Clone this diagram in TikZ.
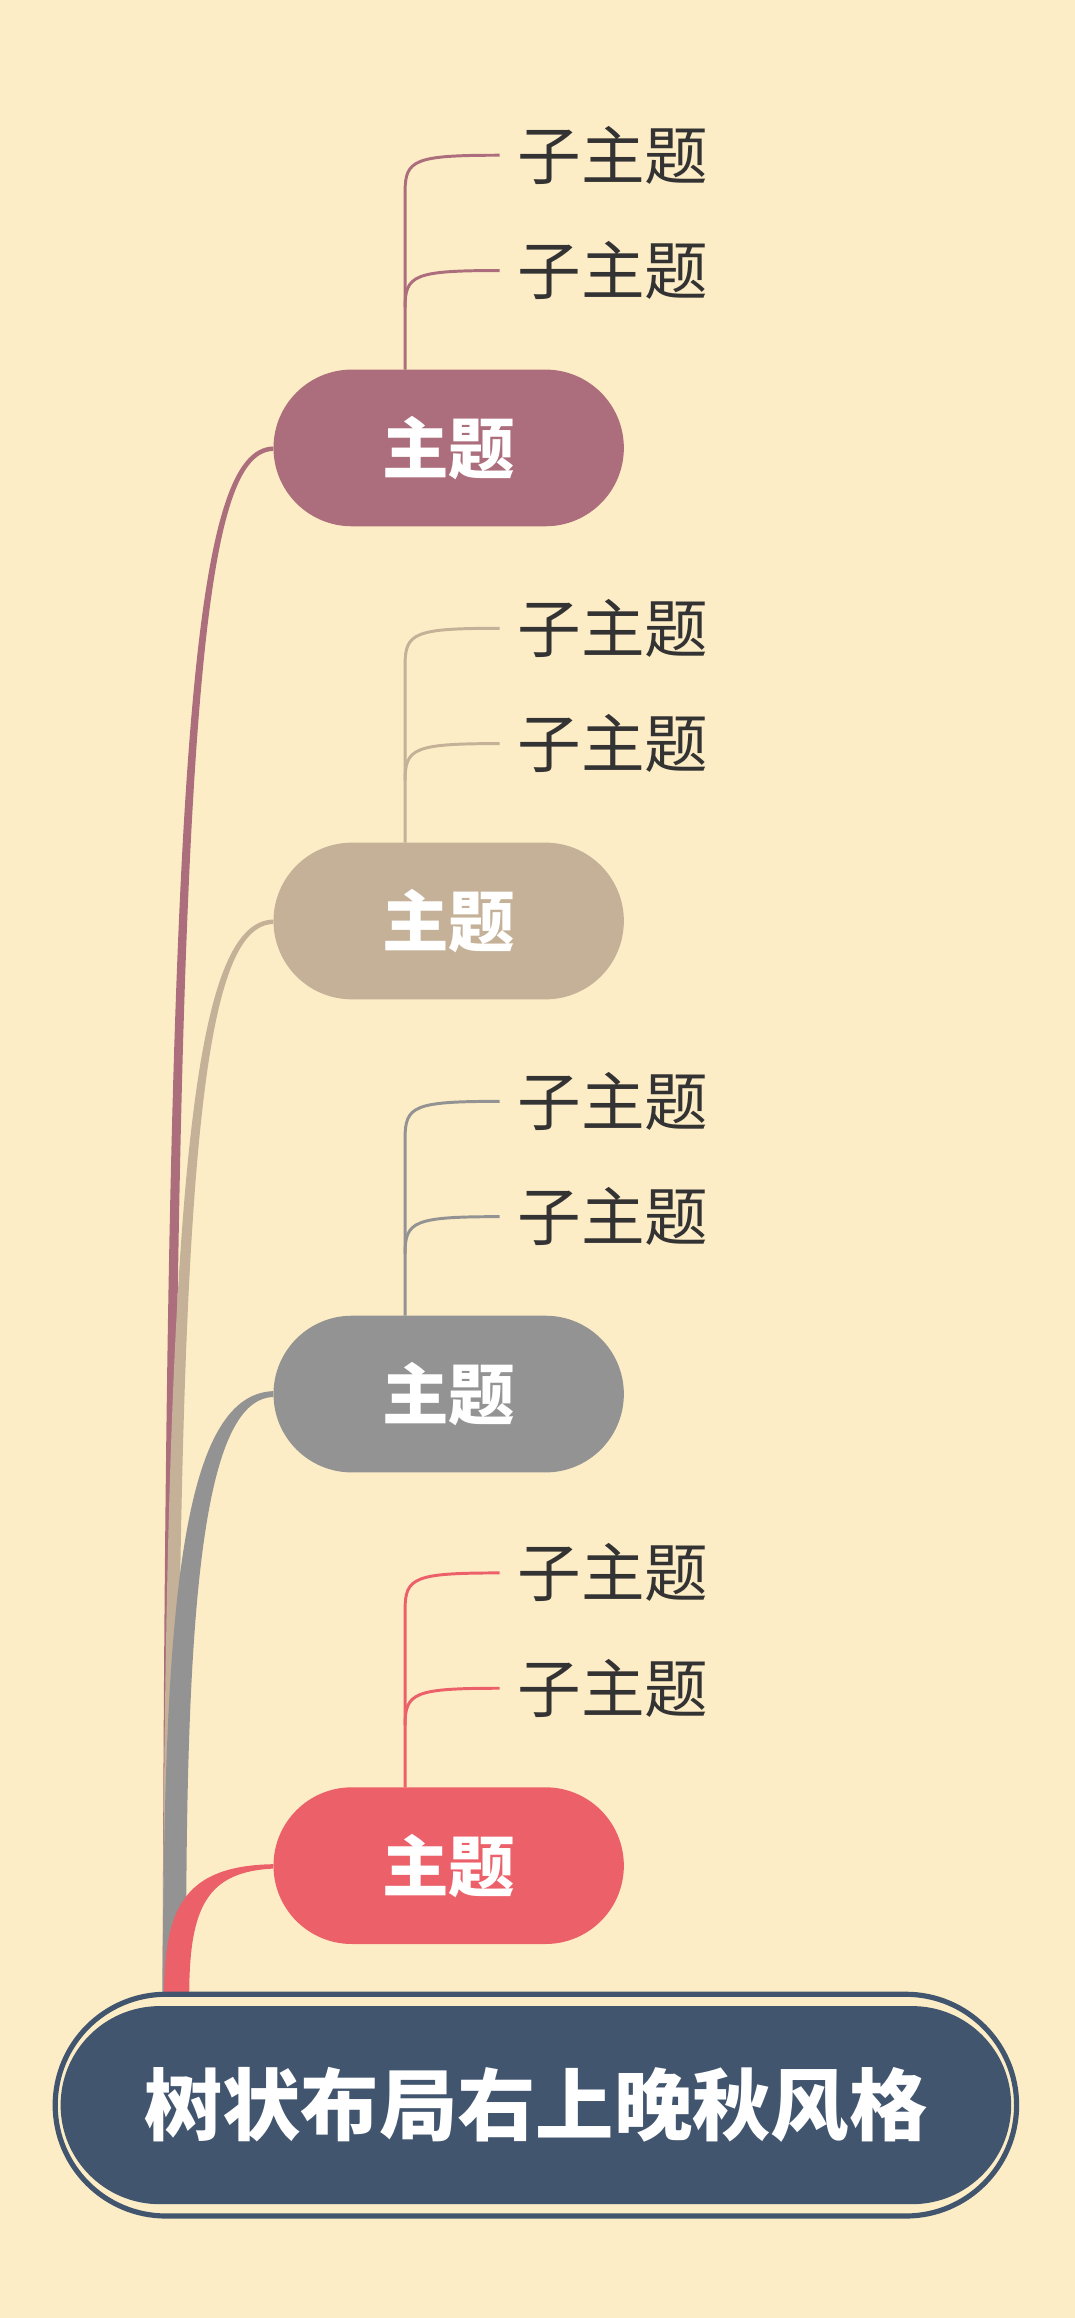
\documentclass[tikz,border=0pt]{standalone}
\usepackage{fontspec}
\usetikzlibrary{shapes.misc}
\newfontfamily\cjk{Noto Sans CJK SC}
\definecolor{bg}{HTML}{FDEDC6}
\definecolor{rootc}{HTML}{42556F}
\definecolor{ca}{HTML}{AC6E7C}
\definecolor{cb}{HTML}{C4B197}
\definecolor{cc}{HTML}{939393}
\definecolor{cd}{HTML}{EC606A}
\definecolor{txt}{HTML}{333333}
\begin{document}
\begin{tikzpicture}[x=1pt,y=-1pt,
  topic/.style={rounded rectangle, minimum width=237pt, minimum height=106pt, inner sep=0pt, text=white, font=\cjk\bfseries\fontsize{45}{50}\selectfont},
  sub/.style={anchor=west, inner sep=0pt, text=txt, font=\cjk\fontsize{43}{48}\selectfont},
  subline/.style={line width=2pt}]
\useasboundingbox (0,0) rectangle (727,1568);
\fill[bg] (0,0) rectangle (727,1568);
% main connectors
\fill[ca] (110,1350) .. controls (112,500) and (130,303) .. (185,302) -- (185,305) .. controls (135,306) and (118,500) .. (117,1350) -- cycle;
\fill[cb] (110,1350) .. controls (112,800) and (130,623) .. (185,622) -- (185,625) .. controls (135,626) and (120,800) .. (120,1350) -- cycle;
\fill[cc] (110,1350) .. controls (111,1100) and (120,943) .. (185,941) -- (185,945) .. controls (135,946) and (125,1100) .. (126,1350) -- cycle;
\fill[cd] (111,1350) .. controls (111,1290) and (125,1262) .. (185,1261) -- (185,1264) .. controls (140,1266) and (128,1290) .. (128,1350) -- cycle;
% topics
\foreach \y/\c/\n in {303/ca/a,623/cb/b,943/cc/c,1262/cd/d}{
  \node[topic, fill=\c] (t\n) at (303.5,\y) {主题};
  \node[sub] (s\n1) at (350,\y-198) {子主题};
  \node[sub] (s\n2) at (350,\y-120) {子主题};
  \draw[subline,\c] (274,\y-53) -- (274,\y-173) .. controls (274,\y-195) and (280,\y-198) .. (338,\y-198);
  \draw[subline,\c] (274,\y-95) .. controls (274,\y-117) and (280,\y-120) .. (338,\y-120);
}
% root
\node[rounded rectangle, minimum width=657pt, minimum height=150pt, draw=rootc, line width=3.5pt, fill=bg] (rootout) at (362.5,1424) {};
\node[rounded rectangle, minimum width=643pt, minimum height=134pt, fill=rootc, text=white, inner sep=0pt, font=\cjk\bfseries\fontsize{53}{58}\selectfont] (root) at (362.5,1424) {树状布局右上晚秋风格};
\end{tikzpicture}
\end{document}
